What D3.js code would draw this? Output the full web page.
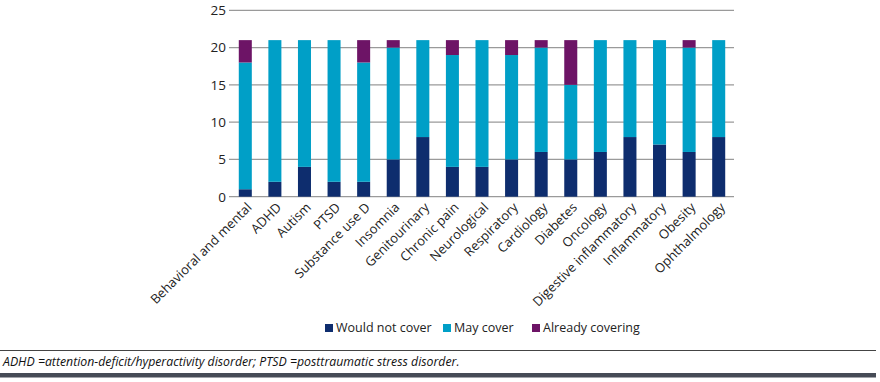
<!DOCTYPE html>
<html>
<head>
<meta charset="utf-8">
<script src="https://cdn.jsdelivr.net/npm/d3@7"></script>
<style>
  body { margin: 0; background: #fff; }
  svg { display: block; font-family: "Open Sans", sans-serif; }
</style>
</head>
<body>
<svg id="chart" width="880" height="382"></svg>
<script>
// categories and series (counts per category)
var categories = ["Behavioral and mental", "ADHD", "Autism", "PTSD", "Substance use D",
  "Insomnia", "Genitourinary", "Chronic pain", "Neurological", "Respiratory", "Cardiology",
  "Diabetes", "Oncology", "Digestive inflammatory", "Inflammatory", "Obesity", "Ophthalmology"];
var wouldNotCover = [1, 2, 4, 2, 2, 5, 8, 4, 4, 5, 6, 5, 6, 8, 7, 6, 8];
var mayCover = [17, 19, 17, 19, 16, 15, 13, 15, 17, 14, 14, 10, 15, 13, 14, 14, 13];
var alreadyCovering = [3, 0, 0, 0, 3, 1, 0, 2, 0, 2, 1, 6, 0, 0, 0, 1, 0];
var seriesNames = ["Would not cover", "May cover", "Already covering"];
var yTicks = [0, 5, 10, 15, 20, 25];
var note = "ADHD =attention-deficit/hyperactivity disorder; PTSD =posttraumatic stress disorder.";

var colors = ["#0e2d6e", "#009fc7", "#6d1466"];

var svg = d3.select("#chart");

// build rows for the stack
var rows = categories.map(function(c, i) {
  return { cat: c, "Would not cover": wouldNotCover[i], "May cover": mayCover[i], "Already covering": alreadyCovering[i] };
});
var stacked = d3.stack().keys(seriesNames)(rows);

var x = d3.scaleBand().domain(categories).range([230.5, 733.5]).paddingInner(0.56).paddingOuter(0.28);
var y = d3.scaleLinear().domain([0, 25]).range([196.7, 10.3]);

// gridlines
svg.append("g").selectAll("line")
  .data(yTicks)
  .enter().append("line")
  .attr("x1", 229).attr("x2", 734)
  .attr("y1", function(d) { return y(d); })
  .attr("y2", function(d) { return y(d); })
  .style("stroke", "#9a9a9a")
  .style("stroke-width", 1.2);

// y axis labels
var yAxis = svg.append("g")
  .attr("transform", "translate(226,0)")
  .call(d3.axisLeft(y).tickValues(yTicks).tickSize(0).tickPadding(0));
yAxis.select(".domain").remove();
yAxis.selectAll("text").style("font-size", "13.5px").style("fill", "#222").style("font-family", "Open Sans, sans-serif");

// bars
svg.append("g").selectAll("g")
  .data(stacked)
  .enter().append("g")
  .style("fill", function(d, i) { return colors[i]; })
  .selectAll("rect")
  .data(function(d) { return d; })
  .enter().append("rect")
  .attr("x", function(d) { return x(d.data.cat); })
  .attr("width", x.bandwidth())
  .attr("y", function(d) { return y(d[1]); })
  .attr("height", function(d) { return y(d[0]) - y(d[1]); });

// x labels
svg.append("g").selectAll("text")
  .data(categories)
  .enter().append("text")
  .attr("transform", function(d) {
    return "translate(" + (x(d) + x.bandwidth() / 2 + 4) + ",205) rotate(-45)";
  })
  .attr("text-anchor", "end")
  .attr("dy", "0.35em")
  .style("font-size", "13px")
  .style("fill", "#222")
  .text(function(d) { return d; });

// legend
var legendX = [325, 443, 532];
var legend = svg.append("g").selectAll("g")
  .data(seriesNames)
  .enter().append("g")
  .attr("transform", function(d, i) { return "translate(" + legendX[i] + ",324)"; });
legend.append("rect")
  .attr("width", 8).attr("height", 8)
  .style("fill", function(d, i) { return colors[i]; });
legend.append("text")
  .attr("x", 11).attr("y", 4)
  .attr("dy", "0.35em")
  .style("font-size", "12.5px")
  .style("fill", "#222")
  .text(function(d) { return d; });

// footer
svg.append("line")
  .attr("x1", 0).attr("x2", 876).attr("y1", 350.5).attr("y2", 350.5)
  .style("stroke", "#444").style("stroke-width", 1);
svg.append("text")
  .attr("x", 3).attr("y", 365.5)
  .style("font-size", "12.3px")
  .style("font-style", "italic")
  .style("fill", "#111")
  .text(note);
svg.append("rect")
  .attr("x", 0).attr("y", 373).attr("width", 876).attr("height", 4.5)
  .style("fill", "#464b56");
</script>
</body>
</html>
